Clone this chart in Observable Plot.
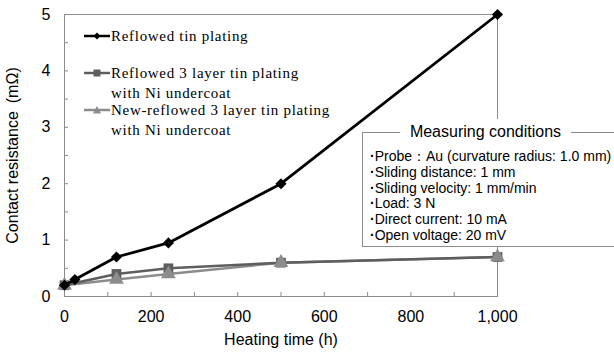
<!DOCTYPE html>
<html><head><meta charset="utf-8">
<script src="https://cdn.jsdelivr.net/npm/d3@7"></script>
<script src="https://cdn.jsdelivr.net/npm/@observablehq/plot@0.6"></script>
<style>
body{margin:0;background:#fff;}
#wrap{position:relative;width:614px;height:359px;overflow:hidden;background:#fff;}
#wrap > svg{position:absolute;left:0;top:0;}
.icon{position:absolute;left:84px;}
.lt{position:absolute;left:111px;font-family:"Liberation Serif","Times New Roman",serif;font-size:15px;letter-spacing:0.7px;line-height:16px;height:16px;color:#000;white-space:nowrap;}
#cond{position:absolute;left:362px;top:132px;width:300px;height:115px;border:1px solid #8c8c8c;background:#fff;box-sizing:border-box;}
#condTitle{position:absolute;left:400px;width:171px;top:119px;height:26px;line-height:26px;text-align:center;background:#fff;font-family:"Liberation Sans",Arial,sans-serif;font-size:16px;color:#000;}
#condText{position:absolute;left:370px;top:149px;font-family:"Liberation Sans",Arial,sans-serif;font-size:14px;line-height:15.8px;color:#000;white-space:nowrap;}
#condText b{font-weight:bold;}
</style></head><body><div id="wrap"></div>
<script>
// ---- data ----
const hoursReflowed = [0, 24, 120, 240, 500, 1000];
const reflowedTin = [0.2, 0.3, 0.7, 0.95, 2.0, 5.0];
const hours3Layer = [0, 120, 240, 500, 1000];
const reflowed3Layer = [0.2, 0.4, 0.5, 0.6, 0.7];
const newReflowed3Layer = [0.2, 0.3, 0.4, 0.6, 0.7];
const seriesNames = [
  ["Reflowed tin plating"],
  ["Reflowed 3 layer tin plating", "with Ni undercoat"],
  ["New-reflowed 3 layer tin plating", "with Ni undercoat"]
];
const xTicks = [0, 200, 400, 600, 800, 1000];
const yTicks = [0, 1, 2, 3, 4, 5];
const xMinorTicks = [100, 200, 300, 400, 500, 600, 700, 800, 900];
const yMinorTicks = [0.5, 1, 1.5, 2, 2.5, 3, 3.5, 4, 4.5];
const xLabel = "Heating time (h)";
const yLabel = "Contact resistance\u2002(m\u03A9)";
const condTitle = "Measuring conditions";
const conditions = [
  "Probe\uFF1AAu (curvature radius: 1.0 mm)",
  "Sliding distance: 1 mm",
  "Sliding velocity: 1 mm/min",
  "Load: 3 N",
  "Direct current: 10 mA",
  "Open voltage: 20 mV"
];
const colors = ["#000000", "#5e5e5e", "#8c8c8c"];
const symbols = ["diamond2", "square", "triangle"];

const s1 = hoursReflowed.map((h, i) => ({h, v: reflowedTin[i]}));
const s2 = hours3Layer.map((h, i) => ({h, v: reflowed3Layer[i]}));
const s3 = hours3Layer.map((h, i) => ({h, v: newReflowed3Layer[i]}));

const W = 614, H = 359, ML = 64, MR = 117, MT = 14, MB = 63, TICK = 4;
const chart = Plot.plot({
  width: W, height: H,
  marginLeft: ML, marginRight: MR, marginTop: MT, marginBottom: MB,
  x: {domain: [0, 1000]},
  y: {domain: [0, 5]},
  style: {fontFamily: "'Liberation Sans', Arial, sans-serif", fontSize: "16px", color: "#000", background: "#fff", overflow: "visible"},
  marks: [
    Plot.frame({stroke: "#8c8c8c"}),
    Plot.tickX(xMinorTicks, {x: d => d, stroke: "#8c8c8c", insetTop: H - MT - MB - TICK}),
    Plot.tickY(yMinorTicks, {y: d => d, stroke: "#8c8c8c", insetRight: W - ML - MR - TICK}),
    Plot.axisX(xTicks, {tickSize: 0, tickPadding: 14, tickFormat: d3.format(","), label: xLabel, labelAnchor: "center", labelArrow: "none", labelOffset: 48}),
    Plot.axisY(yTicks, {tickSize: 0, tickPadding: 14, tickFormat: d3.format("d"), label: yLabel, labelAnchor: "center", labelArrow: "none", labelOffset: 58}),
    Plot.line(s3, {x: "h", y: "v", stroke: colors[2], strokeWidth: 2.5}),
    Plot.line(s2, {x: "h", y: "v", stroke: colors[1], strokeWidth: 2.5}),
    Plot.dot(s2, {x: "h", y: "v", symbol: symbols[1], fill: colors[1], r: 5.5}),
    Plot.dot(s3, {x: "h", y: "v", symbol: symbols[2], fill: colors[2], r: 5.5}),
    Plot.line(s1, {x: "h", y: "v", stroke: colors[0], strokeWidth: 2.8}),
    Plot.dot(s1, {x: "h", y: "v", symbol: symbols[0], fill: colors[0], r: 5})
  ]
});
const wrap = document.getElementById("wrap");
wrap.appendChild(chart);

// legend (inside plot, upper left)
const legCenters = [[35.5], [73, 92.5], [110, 129.5]];
const iconPaths = [
  'M9.5,1.5 L13,5 L9.5,8.5 L6,5 Z',
  'M6,1.5 H13 V8.5 H6 Z',
  'M9.5,1 L13.5,8.5 H5.5 Z'
];
seriesNames.forEach((lines, i) => {
  const ic = document.createElement("div");
  ic.className = "icon";
  ic.style.top = (legCenters[i][0] - 10) + "px";
  ic.innerHTML = `<svg width="27" height="20" viewBox="0 0 27 20"><line x1="0" y1="10" x2="26" y2="10" stroke="${colors[i]}" stroke-width="2.5"/><g transform="translate(3.5,5)"><path d="${iconPaths[i]}" fill="${colors[i]}"/></g></svg>`;
  wrap.appendChild(ic);
  lines.forEach((ln, j) => {
    const t = document.createElement("div");
    t.className = "lt";
    t.style.top = (legCenters[i][j] - 8) + "px";
    t.textContent = ln;
    wrap.appendChild(t);
  });
});

// measuring conditions box
const box = document.createElement("div"); box.id = "cond"; wrap.appendChild(box);
const title = document.createElement("div"); title.id = "condTitle"; title.textContent = condTitle; wrap.appendChild(title);
const ct = document.createElement("div"); ct.id = "condText";
ct.innerHTML = conditions.map(c => "<b>\u00B7</b>" + c).join("<br>");
wrap.appendChild(ct);
</script></body></html>
